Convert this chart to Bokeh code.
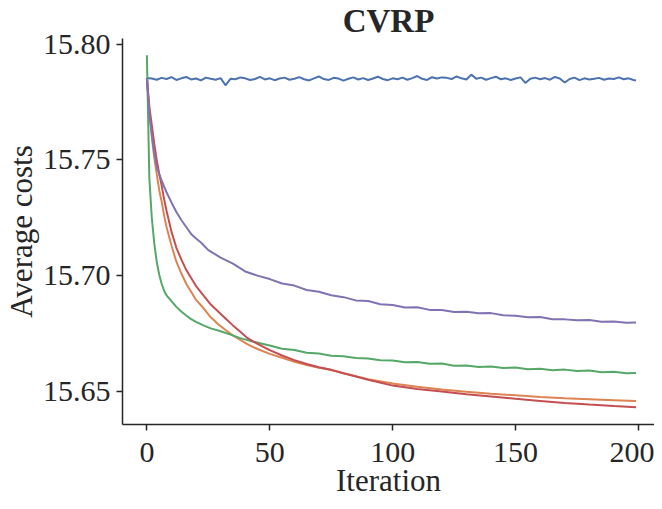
from bokeh.plotting import figure
from bokeh.models import Range1d, FixedTicker, NumeralTickFormatter
from bokeh.embed import file_html
from bokeh.resources import INLINE

# ---------------- data ----------------
blue_it = list(range(0, 200, 2)) + [199]
blue_val = [
    15.7853, 15.7851, 15.7846, 15.7854, 15.7849, 15.7857, 15.7845, 15.7852, 15.7858, 15.7847,
    15.7851, 15.7843, 15.7855, 15.7850, 15.7846, 15.7853, 15.7822, 15.7850, 15.7848, 15.7856,
    15.7852, 15.7845, 15.7849, 15.7858, 15.7847, 15.7852, 15.7844, 15.7851, 15.7855, 15.7846,
    15.7850, 15.7857, 15.7848, 15.7843, 15.7852, 15.7860, 15.7849, 15.7845, 15.7854, 15.7851,
    15.7842, 15.7850, 15.7856, 15.7847, 15.7853, 15.7845, 15.7851, 15.7859, 15.7849, 15.7844,
    15.7852, 15.7848, 15.7855, 15.7846, 15.7853, 15.7862, 15.7850, 15.7845, 15.7857, 15.7851,
    15.7856, 15.7854, 15.7849, 15.7860, 15.7852, 15.7847, 15.7868, 15.7850, 15.7855, 15.7846,
    15.7853, 15.7859, 15.7848, 15.7852, 15.7845, 15.7851, 15.7856, 15.7832, 15.7850, 15.7855,
    15.7848, 15.7853, 15.7846, 15.7858, 15.7851, 15.7834, 15.7849, 15.7855, 15.7844, 15.7852,
    15.7847, 15.7850, 15.7854, 15.7846, 15.7851, 15.7849, 15.7856, 15.7848, 15.7852, 15.7845,
    15.7843,
]

orange_it = [0, 1, 2, 3, 4, 5, 6, 7, 8, 10, 12, 14, 16, 18, 20, 23, 26, 29, 32, 35, 38, 41,
             45, 50, 55, 60, 65, 70, 75, 80, 90, 100, 110, 120, 130, 140, 150, 160, 170, 180, 190, 199]
orange_val = [15.7853, 15.7710, 15.7600, 15.7510, 15.7440, 15.7370, 15.7320, 15.7260, 15.7210,
              15.7130, 15.7060, 15.7010, 15.6965, 15.6930, 15.6895, 15.6860, 15.6820, 15.6790,
              15.6765, 15.6742, 15.6722, 15.6703, 15.6683, 15.6662, 15.6645, 15.6628, 15.6614,
              15.6602, 15.6592, 15.6578, 15.6553, 15.6534, 15.6520, 15.6508, 15.6498, 15.6490,
              15.6483, 15.6476, 15.6470, 15.6466, 15.6462, 15.6458]

green_it = [0, 1, 2, 3, 4, 5, 6, 7, 8, 10, 12, 14, 16, 18, 20, 23, 26, 30, 34, 38, 42, 46,
            50, 55, 60, 65, 70, 75, 80, 85, 90, 95, 100, 105, 110, 115, 120, 125, 130, 135,
            140, 145, 150, 155, 160, 165, 170, 175, 180, 185, 190, 195, 199]
green_val = [15.7952, 15.7420, 15.7250, 15.7140, 15.7060, 15.7005, 15.6965, 15.6935, 15.6915,
             15.6890, 15.6865, 15.6845, 15.6828, 15.6812, 15.6800, 15.6785, 15.6772, 15.6760,
             15.6745, 15.6730, 15.6718, 15.6708,
             15.6698, 15.6684, 15.6679, 15.6667, 15.6664, 15.6654, 15.6652, 15.6644, 15.6642,
             15.6634, 15.6633, 15.6626, 15.6627, 15.6619, 15.6620, 15.6611, 15.6612, 15.6605,
             15.6607, 15.6601, 15.6603, 15.6596, 15.6598, 15.6591, 15.6594, 15.6588, 15.6590,
             15.6583, 15.6585, 15.6578, 15.6579]

red_it = [0, 1, 2, 3, 4, 5, 6, 7, 8, 10, 12, 14, 16, 18, 20, 23, 26, 29, 32, 35, 38, 41,
          45, 50, 55, 60, 65, 70, 75, 80, 90, 100, 110, 120, 130, 140, 150, 160, 170, 180, 190, 199]
red_val = [15.7853, 15.7730, 15.7650, 15.7570, 15.7500, 15.7440, 15.7390, 15.7330, 15.7280,
           15.7190, 15.7120, 15.7070, 15.7025, 15.6990, 15.6955, 15.6915, 15.6875, 15.6845,
           15.6815, 15.6785, 15.6758, 15.6730, 15.6705, 15.6678, 15.6655, 15.6635, 15.6618,
           15.6604, 15.6593, 15.6578, 15.6550, 15.6525, 15.6510, 15.6500, 15.6488, 15.6478,
           15.6468, 15.6459, 15.6450, 15.6443, 15.6437, 15.6432]

purple_it = [0, 1, 2, 3, 4, 5, 6, 8, 10, 12, 14, 16, 18, 20, 22,
             25, 30, 35, 40, 45, 50, 55, 60, 65, 70, 75, 80, 85, 90, 95, 100, 105, 110, 115,
             120, 125, 130, 135, 140, 145, 150, 155, 160, 165, 170, 175, 180, 185, 190, 195, 199]
purple_val = [15.7853, 15.7700, 15.7610, 15.7530, 15.7470, 15.7440, 15.7410, 15.7360, 15.7316,
              15.7275, 15.7240, 15.7210, 15.7180, 15.7160, 15.7143,
              15.7110, 15.7078, 15.7052, 15.7018, 15.7000, 15.6985, 15.6966, 15.6957, 15.6938,
              15.6930, 15.6915, 15.6907, 15.6893, 15.6890, 15.6876, 15.6873, 15.6862, 15.6863,
              15.6852, 15.6851, 15.6843, 15.6844, 15.6837, 15.6838, 15.6829, 15.6827, 15.6820,
              15.6821, 15.6812, 15.6811, 15.6807, 15.6808, 15.6801, 15.6802, 15.6796, 15.6797]

x_ticks = [0, 50, 100, 150, 200]
y_ticks = [15.65, 15.70, 15.75, 15.80]

colors = {"blue": "#4C72B0", "orange": "#DD8452", "green": "#55A868",
          "red": "#C44E52", "purple": "#8172B3"}

# ---------------- figure ----------------
FONT = "Liberation Serif"
INK = "#262626"
X0, X1 = -9.92, 206.53
Y0, Y1 = 15.6357, 15.8024

p = figure(width=654, height=501, output_backend="svg", toolbar_location=None,
           x_range=Range1d(X0, X1), y_range=Range1d(Y0, Y1),
           min_border_left=114, min_border_right=0, min_border_bottom=77, min_border_top=32)

p.title.text = "CVRP"
p.title.align = "center"
p.title.text_font = FONT
p.title.text_font_size = "33px"
p.title.text_font_style = "bold"
p.title.text_color = INK
p.title.standoff = 0

for xs, ys, c in [(blue_it, blue_val, "blue"), (orange_it, orange_val, "orange"),
                  (green_it, green_val, "green"), (red_it, red_val, "red"),
                  (purple_it, purple_val, "purple")]:
    p.line(xs, ys, line_color=colors[c], line_width=2)

p.xgrid.visible = False
p.ygrid.visible = False
p.outline_line_color = None
p.background_fill_color = "white"
p.border_fill_color = "white"

p.xaxis.ticker = FixedTicker(ticks=x_ticks)
p.yaxis.ticker = FixedTicker(ticks=y_ticks)
p.yaxis.formatter = NumeralTickFormatter(format="0.00")
p.xaxis.axis_label = "Iteration"
p.yaxis.axis_label = "Average costs"

for ax in (p.xaxis, p.yaxis):
    ax.axis_line_color = INK
    ax.axis_line_width = 1.5
    ax.major_tick_line_color = INK
    ax.major_tick_line_width = 1.5
    ax.major_tick_out = 6
    ax.major_tick_in = 0
    ax.minor_tick_line_color = None
    ax.major_label_text_font = FONT
    ax.major_label_text_font_size = "30px"
    ax.major_label_text_color = INK
    ax.axis_label_text_font = FONT
    ax.axis_label_text_font_size = "31px"
    ax.axis_label_text_font_style = "normal"
    ax.axis_label_text_color = INK

p.xaxis.major_label_standoff = 12
p.xaxis.axis_label_standoff = -2
p.xaxis.axis_label_text_line_height = 0.6
p.yaxis.major_label_standoff = 6
p.yaxis.axis_label_standoff = 1

open("out.html", "w").write(file_html(p, INLINE))
